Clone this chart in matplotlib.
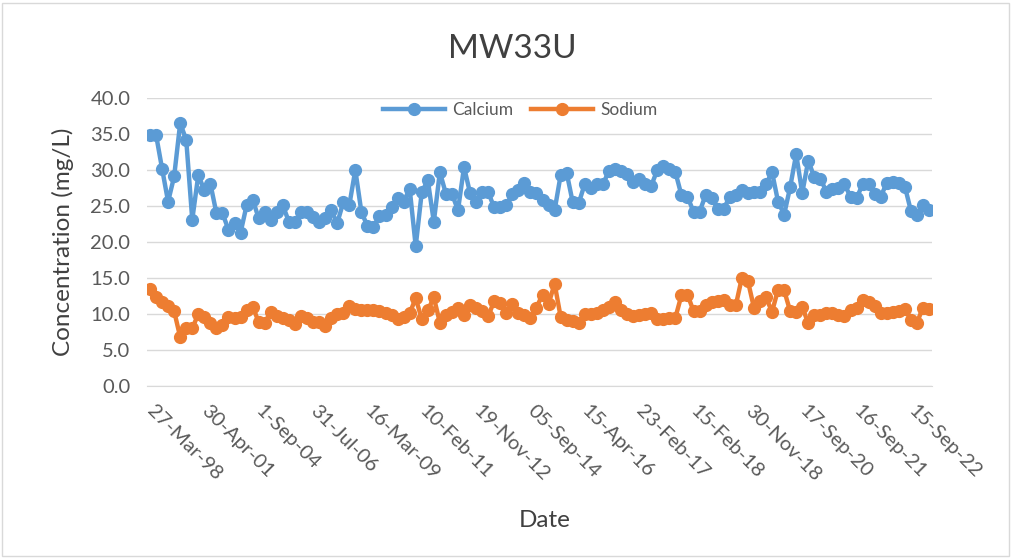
import matplotlib
matplotlib.use("Agg")
import matplotlib.pyplot as plt
from matplotlib.patches import Rectangle

# Sampled concentrations (mg/L), one value per sampling event
calcium = [34.9, 34.9, 30.2, 25.6, 29.1, 36.5, 34.2, 23.1, 29.3, 27.2,
           28.1, 24.0, 24.0, 21.7, 22.6, 21.3, 25.1, 25.9, 23.3, 24.2,
           23.1, 24.2, 25.1, 22.8, 22.8, 24.2, 24.2, 23.5, 22.8, 23.3,
           24.4, 22.6, 25.5, 25.1, 30.0, 24.2, 22.2, 22.1, 23.6, 23.8,
           24.9, 26.1, 25.6, 27.4, 19.4, 26.9, 28.6, 22.8, 29.7, 26.7,
           26.7, 24.4, 30.4, 26.8, 25.5, 27.0, 26.9, 24.8, 24.8, 25.1,
           26.7, 27.2, 28.2, 26.9, 26.8, 25.8, 25.1, 24.4, 29.3, 29.6,
           25.5, 25.4, 28.1, 27.5, 28.0, 28.1, 29.8, 30.1, 29.9, 29.4,
           28.3, 28.7, 28.0, 27.8, 30.0, 30.5, 30.1, 29.7, 26.5, 26.3,
           24.2, 24.2, 26.5, 26.1, 24.6, 24.6, 26.3, 26.5, 27.2, 26.8,
           26.9, 27.0, 28.0, 29.7, 25.6, 23.8, 27.6, 32.2, 26.8, 31.3,
           29.0, 28.8, 27.0, 27.4, 27.5, 28.0, 26.3, 26.1, 28.0, 28.1,
           26.6, 26.3, 28.2, 28.4, 28.2, 27.7, 24.3, 23.8, 25.2, 24.4]

sodium = [13.5, 12.3, 11.7, 11.1, 10.4, 6.8, 8.0, 8.0, 10.0, 9.6,
          8.7, 8.0, 8.5, 9.6, 9.4, 9.6, 10.6, 11.0, 8.9, 8.8,
          10.3, 9.7, 9.4, 9.2, 8.6, 9.7, 9.4, 8.9, 8.9, 8.3,
          9.4, 10.0, 10.2, 11.1, 10.7, 10.5, 10.5, 10.5, 10.4, 10.1,
          9.8, 9.3, 9.6, 10.1, 12.2, 9.3, 10.5, 12.3, 8.8, 9.8,
          10.3, 10.8, 9.8, 11.3, 10.8, 10.4, 9.7, 11.8, 11.5, 10.2,
          11.4, 10.2, 9.8, 9.5, 10.9, 12.7, 11.4, 14.2, 9.6, 9.2,
          9.0, 8.8, 10.0, 10.0, 10.1, 10.6, 11.0, 11.7, 10.5, 10.0,
          9.7, 9.8, 10.0, 10.2, 9.3, 9.3, 9.5, 9.5, 12.6, 12.7,
          10.4, 10.4, 11.3, 11.6, 11.8, 12.0, 11.3, 11.2, 15.0, 14.6,
          10.9, 11.8, 12.3, 10.3, 13.4, 13.3, 10.4, 10.3, 11.0, 8.7,
          9.8, 9.9, 10.2, 10.1, 9.8, 9.7, 10.6, 10.8, 11.9, 11.6,
          11.1, 10.2, 10.1, 10.3, 10.4, 10.7, 9.2, 8.8, 10.9, 10.7]

# Date labels shown on the category axis (every 9th sample)
date_labels = ["27-Mar-98", "30-Apr-01", "1-Sep-04", "31-Jul-06", "16-Mar-09",
               "10-Feb-11", "19-Nov-12", "05-Sep-14", "15-Apr-16", "23-Feb-17",
               "15-Feb-18", "30-Nov-18", "17-Sep-20", "16-Sep-21", "15-Sep-22"]
label_step = 9

plt.rcParams["font.family"] = ["Lato", "DejaVu Sans"]

fig = plt.figure(figsize=(10.22, 5.59), dpi=100)
ax = fig.add_axes([0.1438, 0.3095, 0.912 - 0.1438, 0.8247 - 0.3095])

x = list(range(len(calcium)))
ax.plot(x, calcium, color="#5B9BD5", lw=3.2, marker="o", ms=8.5,
        label="Calcium", solid_joinstyle="round")
ax.plot(x, sodium, color="#ED7D31", lw=3.2, marker="o", ms=8.5,
        label="Sodium", solid_joinstyle="round")

ax.set_xlim(-0.5, len(calcium) - 0.5)
ax.set_ylim(0, 40)
ax.set_yticks([i * 5 for i in range(9)])
ax.set_yticklabels([f"{i * 5:.1f}" for i in range(9)])
ax.set_xticks(list(range(0, len(date_labels) * label_step, label_step)))
ax.set_xticklabels(date_labels, rotation=-45, ha="left", va="center",
                   rotation_mode="anchor")

ax.grid(axis="y", color="#d9d9d9", lw=1.0)
ax.set_axisbelow(True)
for side in ["top", "right", "left"]:
    ax.spines[side].set_visible(False)
ax.spines["bottom"].set_color("#d9d9d9")
ax.tick_params(axis="both", length=0, labelsize=14.5, colors="#595959")
ax.tick_params(axis="y", pad=12)
ax.tick_params(axis="x", pad=16)

ax.set_ylabel("Concentration (mg/L)", fontsize=17.5, color="#404040", labelpad=12)
fig.text(0.533, 0.068, "Date", fontsize=17.5, color="#404040", ha="center", va="center")
fig.text(0.501, 0.913, "MW33U", fontsize=24, color="#404040", ha="center", va="center")

ax.legend(loc="center", bbox_to_anchor=(0.509, 0.803), bbox_transform=fig.transFigure,
          ncol=2, frameon=False, fontsize=12.5, handlelength=3.6, columnspacing=1.0,
          handletextpad=0.4, labelcolor="#595959")

fig.patches.append(Rectangle((0.002, 0.005), 0.985, 0.99, transform=fig.transFigure,
                             fill=False, edgecolor="#d9d9d9", lw=1.0))

fig.savefig("out.png", dpi=100, facecolor="white")
